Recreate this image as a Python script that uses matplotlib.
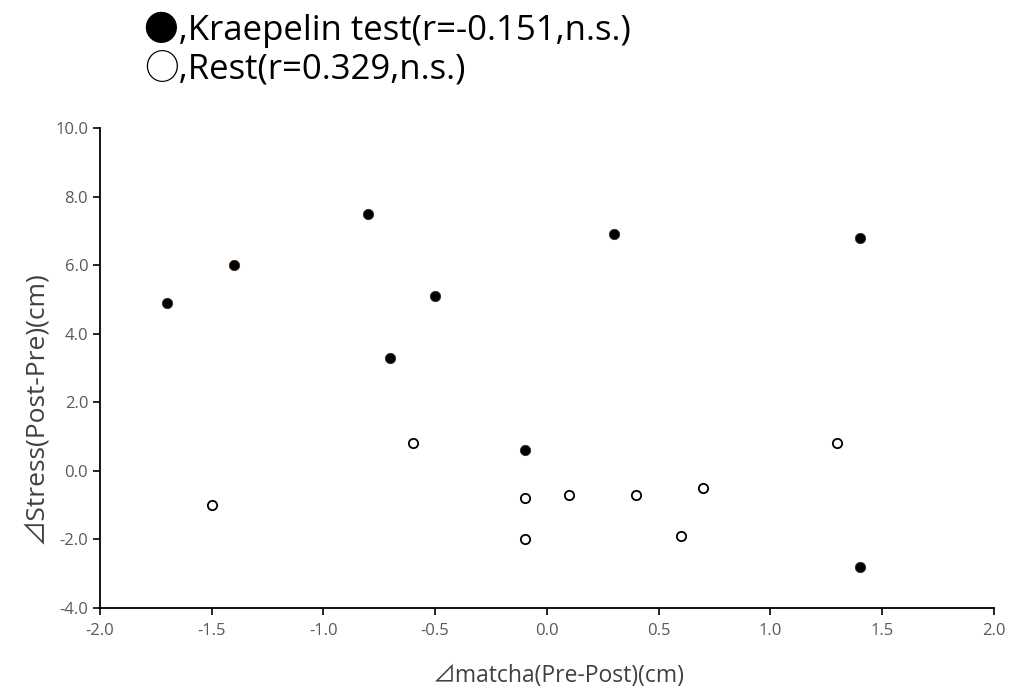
import matplotlib
matplotlib.use('Agg')
from matplotlib import pyplot as plt

plt.rcParams['font.family'] = ['Open Sans', 'Noto Sans CJK JP', 'DejaVu Sans']

# Kraepelin test (filled)
kr_x = [-1.7, -1.4, -0.8, -0.7, -0.5, -0.1, 0.3, 1.4, 1.4]
kr_y = [4.9, 6.0, 7.5, 3.3, 5.1, 0.6, 6.9, 6.8, -2.8]

# Rest (open)
rest_x = [-1.5, -0.6, -0.1, -0.1, 0.1, 0.4, 0.6, 0.7, 1.3]
rest_y = [-1.0, 0.8, -0.8, -2.0, -0.7, -0.7, -1.9, -0.5, 0.8]

x_ticks = [-2.0, -1.5, -1.0, -0.5, 0.0, 0.5, 1.0, 1.5, 2.0]
y_ticks = [-4.0, -2.0, 0.0, 2.0, 4.0, 6.0, 8.0, 10.0]

fig = plt.figure(figsize=(10.1, 6.95), dpi=100)
ax = fig.add_axes([0.099, 0.1252, 0.885, 0.6906])

ax.scatter(kr_x, kr_y, s=55, color='black', edgecolors='#3a2a1a', linewidths=0.6, zorder=3)
ax.scatter(rest_x, rest_y, s=45, facecolors='white', edgecolors='black', linewidths=1.3, zorder=3)

ax.set_xlim(-2.0, 2.0)
ax.set_ylim(-4.0, 10.0)
ax.set_xticks(x_ticks)
ax.set_yticks(y_ticks)
ax.set_xticklabels(['%.1f' % v for v in x_ticks], fontsize=12)
ax.set_yticklabels(['%.1f' % v for v in y_ticks], fontsize=12)

for s in ['top', 'right']:
    ax.spines[s].set_visible(False)
for s in ['left', 'bottom']:
    ax.spines[s].set_linewidth(1.3)
    ax.spines[s].set_color('black')

ax.tick_params(axis='both', colors='black', labelcolor='#595959',
               length=5, width=1.2, direction='out')
ax.tick_params(axis='x', pad=6)

ax.set_xlabel('⊿matcha(Pre-Post)(cm)', fontsize=16.5, color='#404040')
ax.set_ylabel('⊿Stress(Post-Pre)(cm)', fontsize=19, color='#404040')
ax.xaxis.set_label_coords(0.513, -0.117)
ax.yaxis.set_label_coords(-0.058, 0.417)

fig.text(0.143, 0.957, '●,Kraepelin test(r=-0.151,n.s.)', fontsize=25, va='center', color='black')
fig.text(0.143, 0.900, '○,Rest(r=0.329,n.s.)', fontsize=25, va='center', color='black')

fig.savefig('out.png', dpi=100)
